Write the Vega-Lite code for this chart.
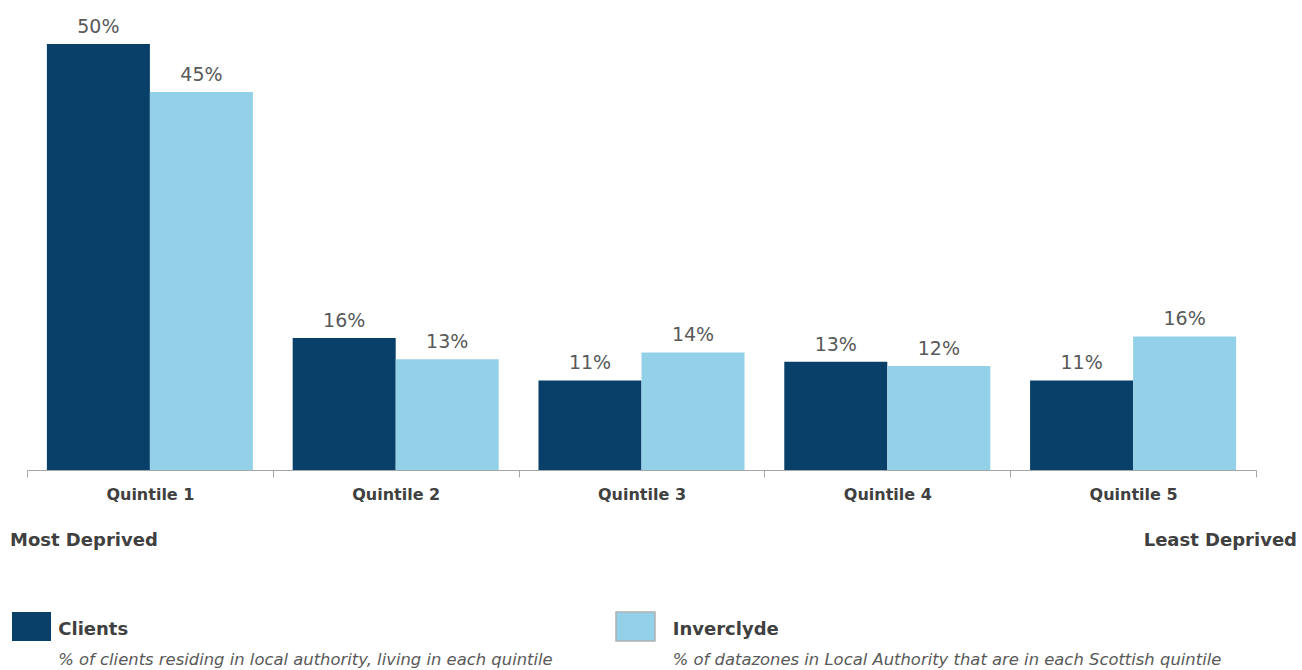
{
  "$schema": "https://vega.github.io/schema/vega-lite/v6.json",
  "autosize": "none",
  "width": 1229,
  "height": 465,
  "padding": {"left": 27, "top": 5, "right": 46, "bottom": 200},
  "background": "white",
  "config": {
    "view": {"stroke": null},
    "font": "DejaVu Sans",
    "text": {"font": "DejaVu Sans"}
  },
  "datasets": {
    "bars": [
      {"quintile": "Quintile 1", "series": "Clients", "value": 0.504},
      {"quintile": "Quintile 1", "series": "Inverclyde", "value": 0.447},
      {"quintile": "Quintile 2", "series": "Clients", "value": 0.156},
      {"quintile": "Quintile 2", "series": "Inverclyde", "value": 0.131},
      {"quintile": "Quintile 3", "series": "Clients", "value": 0.106},
      {"quintile": "Quintile 3", "series": "Inverclyde", "value": 0.139},
      {"quintile": "Quintile 4", "series": "Clients", "value": 0.128},
      {"quintile": "Quintile 4", "series": "Inverclyde", "value": 0.123},
      {"quintile": "Quintile 5", "series": "Clients", "value": 0.106},
      {"quintile": "Quintile 5", "series": "Inverclyde", "value": 0.158}
    ],
    "legend": [
      {"series": "Clients", "desc": "% of clients residing in local authority, living in each quintile"},
      {"series": "Inverclyde", "desc": "% of datazones in Local Authority that are in each Scottish quintile"}
    ]
  },
  "resolve": {"scale": {"x": "independent"}},
  "layer": [
    {
      "layer": [
        {
          "data": {"name": "bars"},
          "mark": {"type": "bar"},
          "encoding": {
            "x": {
              "field": "quintile", "type": "nominal",
              "scale": {"paddingInner": 0, "paddingOuter": 0},
              "axis": {
                "title": null, "labelAngle": 0, "tickBand": "extent",
                "domainColor": "#a6a6a6", "tickColor": "#a6a6a6", "tickSize": 7,
                "labelFont": "DejaVu Sans", "labelFontSize": 16, "labelFontWeight": "bold",
                "labelColor": "#404040", "labelPadding": 9, "grid": false
              }
            },
            "xOffset": {"field": "series", "type": "nominal", "scale": {"paddingInner": 0, "paddingOuter": 0.193}},
            "y": {"field": "value", "type": "quantitative", "scale": {"domain": [0, 0.55]}, "axis": null},
            "color": {
              "field": "series", "type": "nominal",
              "scale": {"domain": ["Clients", "Inverclyde"], "range": ["#08406A", "#93D1E8"]},
              "legend": null
            }
          }
        },
        {
          "data": {"name": "bars"},
          "mark": {"type": "text", "baseline": "alphabetic", "dy": -11, "fontSize": 19, "color": "#595959"},
          "encoding": {
            "x": {"field": "quintile", "type": "nominal"},
            "xOffset": {"field": "series", "type": "nominal"},
            "y": {"field": "value", "type": "quantitative"},
            "text": {"field": "value", "type": "quantitative", "format": ".0%"}
          }
        },
        {
          "data": {"values": [{"label": "Most Deprived"}]},
          "mark": {"type": "text", "align": "left", "baseline": "middle", "dx": -17, "dy": 71, "fontSize": 18, "fontWeight": "bold", "color": "#404040"},
          "encoding": {
            "x": {"datum": "Quintile 1", "bandPosition": 0},
            "y": {"datum": 0},
            "text": {"field": "label"}
          }
        },
        {
          "data": {"values": [{"label": "Least Deprived"}]},
          "mark": {"type": "text", "align": "right", "baseline": "middle", "dx": 41, "dy": 71, "fontSize": 18, "fontWeight": "bold", "color": "#404040"},
          "encoding": {
            "x": {"datum": "Quintile 5", "bandPosition": 1},
            "y": {"datum": 0},
            "text": {"field": "label"}
          }
        }
      ]
    },
    {
      "data": {"name": "legend"},
      "mark": {"type": "point", "filled": true, "shape": "M-1,-0.744H1V0.744H-1Z", "size": 1521, "opacity": 1, "xOffset": -308, "yOffset": 156.5, "strokeWidth": 1.5},
      "encoding": {
        "x": {"field": "series", "type": "nominal", "scale": {"padding": 0.5174}, "axis": null},
        "y": {"datum": 0},
        "color": {"field": "series", "type": "nominal", "legend": null},
        "stroke": {"condition": {"test": "datum.series === 'Inverclyde'", "value": "#b0b0b0"}, "value": null}
      }
    },
    {
      "data": {"name": "legend"},
      "layer": [
        {
          "mark": {"type": "text", "align": "left", "baseline": "middle", "dx": -276, "dy": 159.5, "fontSize": 18, "fontWeight": "bold", "color": "#404040"},
          "encoding": {
            "x": {"field": "series", "type": "nominal", "scale": {"paddingInner": 0, "paddingOuter": 0}, "axis": null},
            "y": {"datum": 0},
            "text": {"field": "series"}
          }
        },
        {
          "mark": {"type": "text", "align": "left", "baseline": "middle", "dx": -276, "dy": 190, "fontSize": 16.4, "fontStyle": "italic", "color": "#595959"},
          "encoding": {
            "x": {"field": "series", "type": "nominal"},
            "y": {"datum": 0},
            "text": {"field": "desc"}
          }
        }
      ]
    }
  ]
}
